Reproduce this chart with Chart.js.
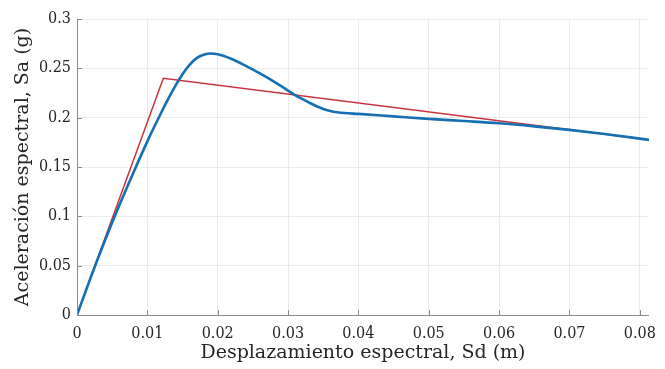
<!DOCTYPE html>
<html>
<head>
<meta charset="utf-8">
<script src="https://cdn.jsdelivr.net/npm/chart.js@4.4.1/dist/chart.umd.min.js"></script>
<style>
  html, body { margin: 0; padding: 0; background: #ffffff; }
  #wrap { width: 665px; height: 369px; position: relative; }
</style>
</head>
<body>
<div id="wrap"><canvas id="c" width="665" height="369"></canvas></div>
<script>
// ---- data ----
const capacitySd = [0, 0.002, 0.004, 0.006, 0.008, 0.010, 0.011, 0.012, 0.013, 0.014, 0.015, 0.016, 0.017, 0.018, 0.019, 0.020, 0.022, 0.024, 0.026, 0.028, 0.030, 0.031, 0.032, 0.033, 0.034, 0.035, 0.036, 0.037, 0.038, 0.040, 0.045, 0.050, 0.055, 0.060, 0.065, 0.070, 0.075, 0.0813];
const capacitySa = [0, 0.039, 0.076, 0.111, 0.144, 0.176, 0.191, 0.2055, 0.2195, 0.2325, 0.2440, 0.2535, 0.2603, 0.2638, 0.2650, 0.2643, 0.2595, 0.2525, 0.2448, 0.2365, 0.2275, 0.2228, 0.2190, 0.2153, 0.2118, 0.2088, 0.2068, 0.2055, 0.2047, 0.2038, 0.2013, 0.1988, 0.1966, 0.1943, 0.1912, 0.1876, 0.1834, 0.1775];
const bilinearSd = [0, 0.01227, 0.0813];
const bilinearSa = [0, 0.2400, 0.1775];
const xTickValues = [0, 0.01, 0.02, 0.03, 0.04, 0.05, 0.06, 0.07, 0.08];
const xTickLabels = ['0', '0.01', '0.02', '0.03', '0.04', '0.05', '0.06', '0.07', '0.08'];
const yTickValues = [0, 0.05, 0.1, 0.15, 0.2, 0.25, 0.3];
const yTickLabels = ['0', '0.05', '0.1', '0.15', '0.2', '0.25', '0.3'];
const xTitle = 'Desplazamiento espectral, Sd (m)';
const yTitle = 'Aceleración espectral, Sa (g)';

const toPts = (xs, ys) => xs.map((x, i) => ({ x: x, y: ys[i] }));

const TICK_FONT = '"DejaVu Serif Condensed", "DejaVu Serif", serif';
const TITLE_FONT = '"DejaVu Serif", serif';
const AXIS_COLOR = '#8c8c8c';
const TEXT_COLOR = '#262626';

// inward tick marks (MATLAB style)
const inwardTicks = {
  id: 'inwardTicks',
  afterDatasetsDraw(chart) {
    const { ctx, chartArea: a, scales } = chart;
    ctx.save();
    ctx.strokeStyle = AXIS_COLOR;
    ctx.lineWidth = 1;
    ctx.beginPath();
    scales.x.ticks.forEach(t => {
      const px = Math.round(scales.x.getPixelForValue(t.value)) + 0.5;
      ctx.moveTo(px, a.bottom); ctx.lineTo(px, a.bottom - 5);
    });
    scales.y.ticks.forEach(t => {
      const py = Math.round(scales.y.getPixelForValue(t.value)) + 0.5;
      ctx.moveTo(a.left, py); ctx.lineTo(a.left + 5, py);
    });
    ctx.stroke();
    ctx.restore();
  }
};

new Chart(document.getElementById('c'), {
  type: 'line',
  data: {
    datasets: [
      {
        label: 'Curva de capacidad',
        data: toPts(capacitySd, capacitySa),
        borderColor: '#1470b3',
        borderWidth: 2.6,
        pointRadius: 0,
        fill: false,
        cubicInterpolationMode: 'monotone'
      },
      {
        label: 'Bilineal',
        data: toPts(bilinearSd, bilinearSa),
        borderColor: '#c8323c',
        borderWidth: 1.5,
        pointRadius: 0,
        fill: false,
        tension: 0
      }
    ]
  },
  options: {
    responsive: false,
    animation: false,
    devicePixelRatio: 1,
    layout: { padding: { left: 0, right: 12, top: 19, bottom: 0 } },
    plugins: { legend: { display: false }, tooltip: { enabled: false } },
    scales: {
      x: {
        type: 'linear',
        min: 0,
        max: 0.0813,
        afterBuildTicks(scale) { scale.ticks = xTickValues.map(v => ({ value: v })); },
        afterFit(scale) { scale.height = 54; },
        ticks: {
          callback: (v) => { const i = xTickValues.findIndex(t => Math.abs(t - v) < 1e-9); return i >= 0 ? xTickLabels[i] : ''; },
          color: TEXT_COLOR,
          font: { family: TICK_FONT, size: 16 },
          padding: 9,
          maxRotation: 0,
          autoSkip: false
        },
        grid: { color: '#ebebeb', drawTicks: false, lineWidth: 1 },
        border: { display: true, color: AXIS_COLOR, width: 1 },
        title: { display: true, text: xTitle, color: TEXT_COLOR, font: { family: TITLE_FONT, size: 19 }, padding: { top: 0, bottom: 5 } }
      },
      y: {
        type: 'linear',
        min: 0,
        max: 0.3,
        afterBuildTicks(scale) { scale.ticks = yTickValues.map(v => ({ value: v })); },
        afterFit(scale) { scale.width = 77; },
        ticks: {
          callback: (v) => { const i = yTickValues.findIndex(t => Math.abs(t - v) < 1e-9); return i >= 0 ? yTickLabels[i] : ''; },
          color: TEXT_COLOR,
          font: { family: TICK_FONT, size: 16 },
          padding: 6,
          autoSkip: false
        },
        grid: { color: '#ebebeb', drawTicks: false, lineWidth: 1 },
        border: { display: true, color: AXIS_COLOR, width: 1 },
        title: { display: true, text: yTitle, color: TEXT_COLOR, font: { family: TITLE_FONT, size: 19 }, padding: { top: 12, bottom: 0 } }
      }
    }
  },
  plugins: [inwardTicks]
});
</script>
</body>
</html>
